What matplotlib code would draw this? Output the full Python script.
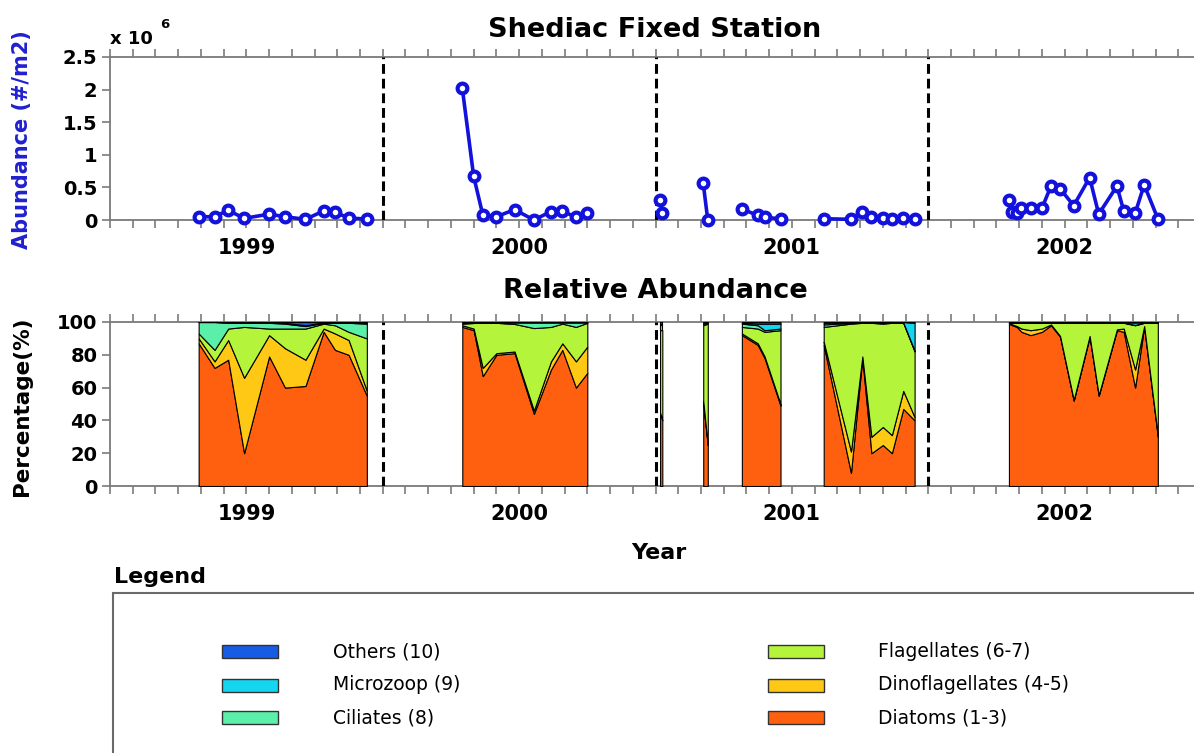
import numpy as np
import matplotlib
matplotlib.use('Agg')
import matplotlib.pyplot as plt
from matplotlib.patches import Rectangle

W, H = 1194, 753

# sample times, in months from the start of the 1999 season
months = [3.9, 4.6, 5.2, 5.9, 7.0, 7.7, 8.6, 9.4, 9.9, 10.5, 11.3,
          15.5, 16.0, 16.4, 17.0, 17.8, 18.65, 19.4, 19.9, 20.5, 21.0,
          24.2, 24.3, 26.1, 26.3, 27.8, 28.5, 28.8, 29.5,
          31.4, 32.6, 33.1, 33.5, 34.0, 34.4, 34.9, 35.4,
          39.55, 39.7, 39.9, 40.1, 40.5, 41.0, 41.4, 41.8, 42.4, 43.1, 43.5, 44.3, 44.6, 45.1, 45.5, 46.1]
# samples with the same group number are joined
group = [0]*11 + [1]*10 + [2, 2, 3, 3, 4, 4, 4, 4] + [5]*8 + [6]*16

# total abundance, x 10^6 per m2
abundance = [0.05, 0.05, 0.15, 0.025, 0.09, 0.05, 0.01, 0.14, 0.12, 0.03, 0.015,
             2.02, 0.67, 0.08, 0.05, 0.16, 0.0, 0.13, 0.14, 0.04, 0.11,
             0.31, 0.11, 0.56, 0.0, 0.17, 0.07, 0.04, 0.02,
             0.02, 0.01, 0.13, 0.05, 0.03, 0.02, 0.03, 0.01,
             0.30, 0.12, 0.10, 0.18, 0.18, 0.18, 0.52, 0.48, 0.22, 0.65, 0.09, 0.52, 0.14, 0.10, 0.54, 0.02]

# relative abundance (%)
diatoms = [87, 72, 77, 20, 79, 60, 61, 94, 83, 80, 55,
           97, 95, 67, 80, 81, 44, 71, 83, 60, 69,
           45, 40, 50, 25, 92, 86, 78, 49,
           86, 8, 78, 20, 25, 20, 47, 40,
           99, 98, 97, 94, 92, 94, 98, 91, 52, 91, 55, 95, 94, 60, 97, 30]
dinoflag = [3, 4, 12, 46, 13, 24, 16, 2, 10, 9, 3,
            1, 1, 5, 1, 1, 2, 5, 4, 16, 16,
            0, 0, 2, 0, 1, 1, 1, 1,
            2, 13, 1, 10, 11, 11, 11, 2,
            0.5, 0.5, 0.5, 2, 3, 2, 0.5, 0.5, 0.5, 0.5, 0.5, 0.5, 2, 11, 0.5, 1]
flagell = [3, 7, 7, 31, 4, 12, 19, 3, 5, 5, 32,
           1, 3.4, 27.5, 18.5, 16.8, 50.3, 21, 12, 21, 14.5,
           50, 55, 46, 74, 4, 9, 15, 45,
           9, 78, 20.5, 69.5, 63, 68.5, 41.5, 40,
           0, 1, 2, 3.5, 4.5, 3.5, 1, 8, 47, 8, 44, 4, 3.5, 27, 2, 68.5]
ciliates = [7, 17, 3.5, 2.5, 3.5, 3, 1.5, 0.5, 1.5, 5.5, 9,
            0.5, 0.3, 0.3, 0.3, 1, 3.5, 2.8, 0.8, 2.8, 0.3,
            3, 3, 1, 0.5, 2, 2, 1, 1,
            1.5, 0.5, 0.3, 0.3, 0.5, 0.3, 0.3, 0.5,
            0.2, 0.2, 0.2, 0.2, 0.2, 0.2, 0.2, 0.2, 0.2, 0.2, 0.2, 0.2, 0.2, 0.2, 0.2, 0.2]
microzoop = [0, 0, 0.5, 0.5, 0.5, 0.5, 0.5, 0.3, 0.3, 0.3, 0.5,
             0.2, 0.2, 0.1, 0.1, 0.1, 0.1, 0.1, 0.1, 0.1, 0.1,
             1, 1, 0.5, 0.3, 0.5, 1, 4, 3,
             1, 0.3, 0.1, 0.1, 0.3, 0.1, 0.2, 17,
             0.1, 0.1, 0.1, 0.1, 0.1, 0.1, 0.1, 0.1, 0.1, 0.1, 0.1, 0.1, 0.1, 1.5, 0.1, 0.1]
others = [0, 0, 0, 0, 0, 0.5, 2, 0.2, 0.2, 0.2, 0.5,
          0.3, 0.1, 0.1, 0.1, 0.1, 0.1, 0.1, 0.1, 0.1, 0.1,
          1, 1, 0.5, 0.2, 0.5, 1, 1, 1,
          0.5, 0.2, 0.1, 0.1, 0.2, 0.1, 0, 0.5,
          0.2, 0.2, 0.2, 0.2, 0.2, 0.2, 0.2, 0.2, 0.2, 0.2, 0.2, 0.2, 0.2, 0.3, 0.2, 0.2]

year_labels = ['1999', '2000', '2001', '2002']
year_centers = [6, 18, 30, 42]
year_breaks = [12, 24, 36]

layers = [diatoms, dinoflag, flagell, ciliates, microzoop, others]
layer_colors = ['#ff6010', '#ffc814', '#b4f53c', '#5af0aa', '#14d6f0', '#165ce4']
legend_left = ['Others (10)', 'Microzoop (9)', 'Ciliates (8)']
legend_left_colors = ['#165ce4', '#14d6f0', '#5af0aa']
legend_right = ['Flagellates (6-7)', 'Dinoflagellates (4-5)', 'Diatoms (1-3)']
legend_right_colors = ['#b4f53c', '#ffc814', '#ff6010']

months = np.array(months)
group = np.array(group)
abundance = np.array(abundance)
stack = np.cumsum(np.array(layers, dtype=float), axis=0)

fig = plt.figure(figsize=(W/100, H/100), dpi=100)
ax1 = fig.add_axes([110/W, 1-220/H, 1091/W, 163/H])
ax2 = fig.add_axes([110/W, 1-486/H, 1091/W, 164/H])

spine_col = '#7a7a7a'
for ax in (ax1, ax2):
    ax.set_xlim(0, 48)
    for s in ax.spines.values():
        s.set_color(spine_col)
        s.set_linewidth(1.3)
    ax.spines['right'].set_visible(False)
    ax.xaxis.remove_overlapping_locs = False
    ax.set_xticks(np.arange(0, 49, 1))
    ax.set_xticklabels([])
    ax.set_xticks(year_centers, minor=True)
    ax.set_xticklabels(year_labels, minor=True, fontsize=15, fontweight='bold')
    ax.tick_params(axis='x', which='major', direction='out', top=True, length=6,
                   width=1.2, color=spine_col)
    ax.tick_params(axis='x', which='minor', length=0, pad=13)
    ax.tick_params(axis='y', direction='out', length=6, width=1.2, color=spine_col,
                   labelsize=14, pad=3)
    for lab in ax.get_yticklabels():
        lab.set_fontweight('bold')
    for xb in year_breaks:
        ax.axvline(xb, color='black', lw=2.2, ls=(0, (3.2, 1.6)), zorder=5)

# top panel: abundance
ax1.set_ylim(0, 2.5)
ax1.set_yticks([0, 0.5, 1, 1.5, 2, 2.5])
ax1.set_yticklabels(['0', '0.5', '1', '1.5', '2', '2.5'], fontweight='bold')
for g in np.unique(group):
    m = group == g
    ax1.plot(months[m], abundance[m], color='#1212dc', lw=2.6, marker='o', ms=7,
             mfc='white', mec='#1212dc', mew=3, clip_on=False, zorder=6)

# bottom panel: stacked relative abundance
ax2.set_ylim(0, 100)
ax2.set_yticks([0, 20, 40, 60, 80, 100])
ax2.set_yticklabels(['0', '20', '40', '60', '80', '100'], fontweight='bold')
for g in np.unique(group):
    m = group == g
    lower = np.zeros(m.sum())
    for i, col in enumerate(layer_colors):
        upper = stack[i][m]
        ax2.fill_between(months[m], lower, upper, facecolor=col, edgecolor='black',
                         lw=0.8, zorder=3)
        lower = upper

# texts
fig.text(655/W, 1-30/H, 'Shediac Fixed Station', ha='center', va='center',
         fontsize=19.5, fontweight='bold')
fig.text(655/W, 1-291/H, 'Relative Abundance', ha='center', va='center',
         fontsize=19.5, fontweight='bold')
fig.text(110/W, 1-39/H, 'x 10', ha='left', va='center', fontsize=13, fontweight='bold')
fig.text(160/W, 1-24/H, '6', ha='left', va='center', fontsize=9.5, fontweight='bold')
fig.text(22/W, 1-140/H, 'Abundance (#/m2)', rotation=90, ha='center', va='center',
         fontsize=15, fontweight='bold', color='#2020d0')
fig.text(22/W, 1-406/H, 'Percentage(%)', rotation=90, ha='center', va='center',
         fontsize=15.5, fontweight='bold')
fig.text(659/W, 1-553/H, 'Year', ha='center', va='center', fontsize=16, fontweight='bold')

# legend box
fig.text(114/W, 1-577/H, 'Legend', ha='left', va='center', fontsize=16, fontweight='bold')
fig.patches.append(Rectangle((113/W, -0.05), 1.0, 0.05+1-593/H, transform=fig.transFigure,
                             fill=False, edgecolor='#6a6a6a', lw=1.5))
row_y = [651.5, 685, 717.5]
for names, cols, px, tx in [(legend_left, legend_left_colors, 222, 333),
                            (legend_right, legend_right_colors, 768, 878)]:
    for name, col, yy in zip(names, cols, row_y):
        fig.patches.append(Rectangle((px/W, 1-(yy+6.5)/H), 56/W, 13/H,
                                     transform=fig.transFigure, facecolor=col,
                                     edgecolor='#333333', lw=1))
        fig.text(tx/W, 1-yy/H, name, ha='left', va='center', fontsize=13.5)

fig.savefig('out.png', dpi=100)
